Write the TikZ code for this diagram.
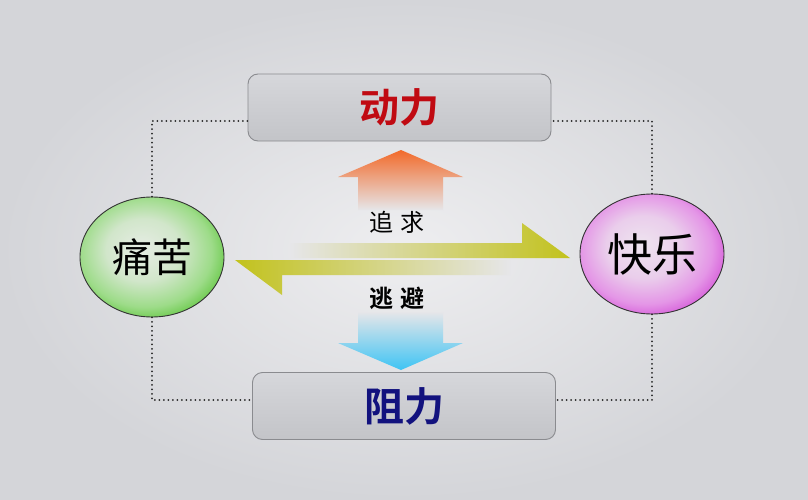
\documentclass[tikz,border=0pt]{standalone}
\usepackage{fontspec}
\newfontfamily\cjk{Noto Sans CJK SC}
\newfontfamily\cjkb{Noto Sans CJK SC Bold}
\usetikzlibrary{shapes.geometric,calc}
\definecolor{bgin}{HTML}{EEEEF0}
\definecolor{bgout}{HTML}{D4D5D9}
\definecolor{bgmid}{HTML}{E6E6E9}
\definecolor{boxtop}{HTML}{D6D7DB}
\definecolor{boxbot}{HTML}{C3C4C8}
\definecolor{boxline}{HTML}{8A8B8F}
\definecolor{redtxt}{HTML}{C00A12}
\definecolor{bluetxt}{HTML}{12127E}
\definecolor{olive}{HTML}{C2C21C}
\definecolor{orangeA}{HTML}{F26A2A}
\definecolor{blueA}{HTML}{3EC4F4}
\definecolor{greenA}{HTML}{5CC43A}
\definecolor{greenC}{HTML}{E6ECE4}
\definecolor{pinkA}{HTML}{D24FD6}
\definecolor{pinkC}{HTML}{EEE4EF}
\pgfdeclareradialshading{greenball}{\pgfpoint{-4bp}{4bp}}{%
  color(0bp)=(greenC); color(13bp)=(greenC!85!greenA); color(23bp)=(greenA!60!white);
  color(30bp)=(greenA); color(36bp)=(greenA!75!black); color(50bp)=(greenA!75!black)}
\pgfdeclareradialshading{pinkball}{\pgfpoint{-4bp}{4bp}}{%
  color(0bp)=(pinkC); color(13bp)=(pinkC!85!pinkA); color(23bp)=(pinkA!60!white);
  color(30bp)=(pinkA); color(36bp)=(pinkA!75!black); color(50bp)=(pinkA!75!black)}
\tikzset{
  forcebox/.style={rectangle, rounded corners=10pt, draw=boxline, line width=0.9pt,
    top color=boxtop, bottom color=boxbot, minimum width=303pt, minimum height=67pt,
    font=\cjkb\fontsize{40}{42}\selectfont},
  feelball/.style={ellipse, draw=black!80, line width=0.9pt, minimum width=144pt,
    minimum height=120pt, font=\cjk\fontsize{40}{42}\selectfont},
  dotline/.style={line width=2pt, black!85, line cap=round, dash pattern=on 0pt off 4.5pt},
  midlabel/.style={font=\cjk\fontsize{24}{26}\selectfont}
}
\begin{document}
\begin{tikzpicture}[x=1pt,y=-1pt]
\useasboundingbox (0,0) rectangle (808,500);
\shade[inner color=bgin, outer color=bgout] (0,0) rectangle (808,500);

% boxes
\node[forcebox, text=redtxt] (top) at (399.5,107.5) {动力};
\node[forcebox, text=bluetxt] (bot) at (404,406) {阻力};

% ellipses
\node[feelball, shading=greenball] (pain) at (152,257) {痛苦};
\node[feelball, shading=pinkball, font=\cjk\fontsize{45}{47}\selectfont] (joy) at (652,254) {快乐};

% dotted connectors
\coordinate (tl) at ($(top.west)+(0,13.5)$);
\coordinate (tr) at ($(top.east)+(0,13.5)$);
\coordinate (bl) at ($(bot.west)+(0,-6)$);
\coordinate (br) at ($(bot.east)+(0,-6)$);
\draw[dotline] (pain.north) |- (tl);
\draw[dotline] (joy.north) |- (tr);
\draw[dotline] (pain.south) |- (bl);
\draw[dotline] (joy.south) |- (br);

% vertical arrows
\shade[top color=orangeA, bottom color=bgmid]
  (401,150) -- (463,177) -- (443,177) -- (443,210) -- (358,210) -- (358,177) -- (338,177) -- cycle;
\shade[bottom color=blueA, top color=bgmid]
  (401,370) -- (463,343) -- (443,343) -- (443,312) -- (358,312) -- (358,343) -- (338,343) -- cycle;

% horizontal harpoon arrows
\shade[left color=bgmid, right color=olive]
  (290,243) -- (522,243) -- (522,223) -- (570,258) -- (290,258) -- cycle;
\shade[left color=olive, right color=bgmid]
  (235,260) -- (510,260) -- (510,275) -- (282,275) -- (282,295) -- cycle;

% labels
\node[midlabel] (seek) at (397,222) {追\,\,求};
\node[midlabel, font=\cjkb\fontsize{24}{26}\selectfont] (flee) at (397,298) {逃\,\,避};
\end{tikzpicture}
\end{document}
